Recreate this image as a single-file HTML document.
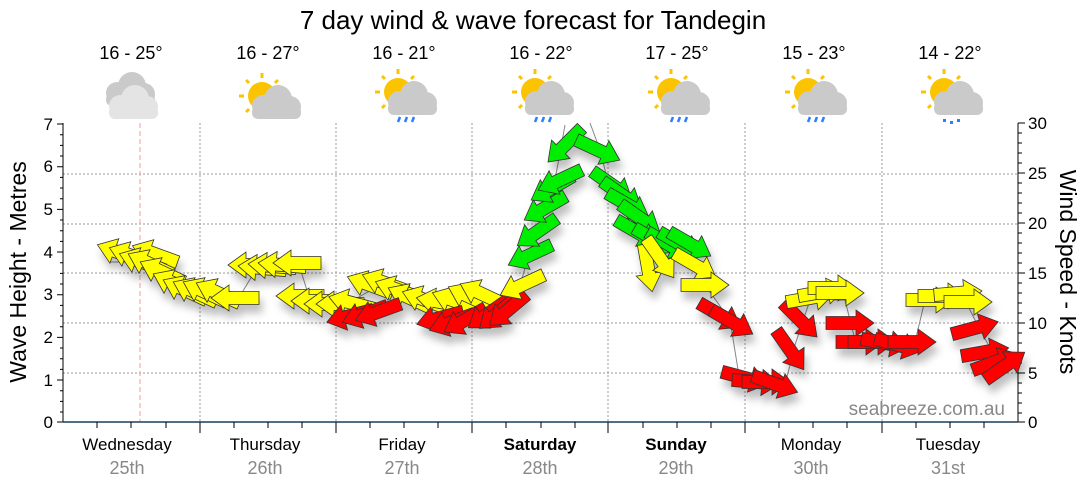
<!DOCTYPE html>
<html><head><meta charset="utf-8"><style>
body{margin:0;background:#fff}
svg{display:block;font-family:"Liberation Sans",sans-serif}
</style></head><body>
<svg width="1080" height="490" viewBox="0 0 1080 490" xmlns="http://www.w3.org/2000/svg">
<defs>
<polygon id="a" points="-24,-6.5 6,-6.5 6,-13 24,0 6,13 6,6.5 -24,6.5"/>
<filter id="sh" x="-50%" y="-50%" width="200%" height="200%"><feDropShadow dx="3" dy="8" stdDeviation="4" flood-color="#000" flood-opacity="0.25"/></filter>
<g id="cl"><circle cx="-10" cy="2" r="11"/><circle cx="5" cy="-5" r="14"/><circle cx="17" cy="3" r="11"/><rect x="-21" y="2" width="49" height="13" rx="6"/></g>
<g id="sun" fill="#fcc400"><circle r="14"/><g stroke="#fcc400" stroke-width="3"><line x1="0" y1="-18" x2="0" y2="-23"/><line x1="-13" y1="-13" x2="-16" y2="-16"/><line x1="13" y1="-13" x2="16" y2="-16"/><line x1="-18" y1="0" x2="-23" y2="0"/><line x1="-13" y1="13" x2="-16" y2="16"/></g></g>
<g id="rain" stroke="#2a7fff" stroke-width="2.5"><line x1="-7" y1="0" x2="-9" y2="5"/><line x1="0" y1="0" x2="-2" y2="5"/><line x1="7" y1="0" x2="5" y2="5"/></g>
</defs>
<text x="533" y="29" font-size="26" text-anchor="middle" fill="#000">7 day wind &amp; wave forecast for Tandegin</text>
<g font-size="18" text-anchor="middle" fill="#000">
<text x="131" y="59">16 - 25°</text><text x="268" y="59">16 - 27°</text><text x="404" y="59">16 - 21°</text><text x="541" y="59">16 - 22°</text><text x="677" y="59">17 - 25°</text><text x="814" y="59">15 - 23°</text><text x="950" y="59">14 - 22°</text>
</g>
<use href="#cl" x="127" y="91" fill="#cacaca"/><use href="#cl" x="130" y="104" fill="#e4e4e4"/>
<use href="#sun" x="262" y="96"/><use href="#cl" x="273" y="104" fill="#cacaca"/>
<use href="#sun" x="398" y="92"/><use href="#cl" x="409" y="100" fill="#cacaca"/><use href="#rain" x="407" y="117"/>
<use href="#sun" x="535" y="92"/><use href="#cl" x="546" y="100" fill="#cacaca"/><use href="#rain" x="544" y="117"/>
<use href="#sun" x="671" y="92"/><use href="#cl" x="682" y="100" fill="#cacaca"/><use href="#rain" x="680" y="117"/>
<use href="#sun" x="808" y="92"/><use href="#cl" x="819" y="100" fill="#cacaca"/><use href="#rain" x="817" y="117"/>
<use href="#sun" x="944" y="92"/><use href="#cl" x="955" y="100" fill="#cacaca"/>
<g fill="#2a7fff"><rect x="943" y="119" width="3" height="3"/><rect x="950" y="121" width="3" height="3"/><rect x="957" y="119" width="3" height="3"/></g>
<g stroke="#999" stroke-dasharray="2,2" stroke-width="1">
<line x1="63" y1="174" x2="1018" y2="174"/><line x1="63" y1="224" x2="1018" y2="224"/><line x1="63" y1="273" x2="1018" y2="273"/><line x1="63" y1="323" x2="1018" y2="323"/><line x1="63" y1="373" x2="1018" y2="373"/>
<line x1="200" y1="123" x2="200" y2="422"/><line x1="336" y1="123" x2="336" y2="422"/><line x1="472" y1="123" x2="472" y2="422"/><line x1="608" y1="123" x2="608" y2="422"/><line x1="745" y1="123" x2="745" y2="422"/><line x1="882" y1="123" x2="882" y2="422"/>
</g>
<line x1="140" y1="123" x2="140" y2="422" stroke="#f99" stroke-dasharray="5,3"/>
<g stroke="#000" stroke-width="1">
<line x1="63" y1="123" x2="63" y2="422"/><line x1="1018" y1="123" x2="1018" y2="422"/>
<path d="M57 124H63M57 166.7H63M57 209.4H63M57 252H63M57 294.7H63M57 337.4H63M57 380H63M57 422H63"/>
<path d="M60 134.7H63M60 145.4H63M60 156H63M60 177.4H63M60 188H63M60 198.7H63M60 220H63M60 230.7H63M60 241.4H63M60 262.7H63M60 273.4H63M60 284H63M60 305.4H63M60 316H63M60 326.7H63M60 348H63M60 358.7H63M60 369.4H63M60 390.7H63M60 401.4H63M60 412H63"/>
<path d="M1018 123H1025M1018 173H1025M1018 223H1025M1018 273H1025M1018 323H1025M1018 373H1025M1018 422H1025"/>
<path d="M1018 133H1022M1018 143H1022M1018 153H1022M1018 163H1022M1018 183H1022M1018 193H1022M1018 203H1022M1018 213H1022M1018 233H1022M1018 243H1022M1018 253H1022M1018 263H1022M1018 283H1022M1018 293H1022M1018 303H1022M1018 313H1022M1018 333H1022M1018 343H1022M1018 353H1022M1018 363H1022M1018 383H1022M1018 393H1022M1018 403H1022M1018 413H1022"/>
</g>
<line x1="63" y1="422" x2="1018" y2="422" stroke="#1c3f5f" stroke-width="1.5"/>
<g stroke="#000">
<path d="M200 422V433M336 422V433M472 422V433M608 422V433M745 422V433M882 422V433"/>
<path d="M97 422V428M131 422V428M166 422V428M234 422V428M268 422V428M302 422V428M370 422V428M404 422V428M438 422V428M506 422V428M541 422V428M575 422V428M643 422V428M677 422V428M711 422V428M779 422V428M813 422V428M847 422V428M916 422V428M950 422V428M984 422V428"/>
</g>
<g font-size="17" fill="#000" text-anchor="end">
<text x="53" y="130">7</text><text x="53" y="172">6</text><text x="53" y="215">5</text><text x="53" y="258">4</text><text x="53" y="300">3</text><text x="53" y="343">2</text><text x="53" y="386">1</text><text x="53" y="428">0</text>
</g>
<g font-size="17" fill="#000">
<text x="1028" y="129">30</text><text x="1028" y="179">25</text><text x="1028" y="229">20</text><text x="1028" y="279">15</text><text x="1028" y="329">10</text><text x="1028" y="379">5</text><text x="1028" y="428">0</text>
</g>
<text transform="translate(26,272) rotate(-90)" font-size="23" text-anchor="middle">Wave Height - Metres</text>
<text transform="translate(1060,272) rotate(90)" font-size="23" text-anchor="middle">Wind Speed - Knots</text>
<g font-size="17" text-anchor="middle">
<text x="127" y="450">Wednesday</text><text x="265" y="450">Thursday</text><text x="402" y="450">Friday</text><text x="540" y="450" font-weight="bold">Saturday</text><text x="676" y="450" font-weight="bold">Sunday</text><text x="811" y="450">Monday</text><text x="948" y="450">Tuesday</text>
</g>
<g font-size="18" text-anchor="middle" fill="#888">
<text x="127" y="474">25th</text><text x="265" y="474">26th</text><text x="402" y="474">27th</text><text x="540" y="474">28th</text><text x="676" y="474">29th</text><text x="811" y="474">30th</text><text x="948" y="474">31st</text>
</g>
<text x="1005" y="415" font-size="19" fill="#888" text-anchor="end">seabreeze.com.au</text>
<polyline fill="none" stroke="#888" stroke-width="1" points="110,262 160,262 200,296 240,296 258,266 300,268 310,300 345,305 380,285 420,298 480,297 505,305 520,285 535,235 555,180 565,125"/>
<polyline fill="none" stroke="#888" stroke-width="1" points="590,123 600,150 610,190 640,230 690,248 705,285 730,320 740,382 785,385 795,345 810,300 845,300 855,340 915,342 925,300 965,300 980,330 1000,365"/>
<g stroke="#333" stroke-width="0.8" filter="url(#sh)">
<g fill="#ff0">
<use href="#a" transform="translate(120,253) rotate(200)"/><use href="#a" transform="translate(132,256) rotate(200)"/><use href="#a" transform="translate(155,254) rotate(200)"/><use href="#a" transform="translate(142,262) rotate(200)"/><use href="#a" transform="translate(150,264) rotate(205)"/><use href="#a" transform="translate(162,272) rotate(205)"/>
<use href="#a" transform="translate(175,284) rotate(205)"/><use href="#a" transform="translate(185,290) rotate(205)"/><use href="#a" transform="translate(195,292) rotate(205)"/><use href="#a" transform="translate(205,292) rotate(205)"/><use href="#a" transform="translate(218,293) rotate(205)"/><use href="#a" transform="translate(235,298) rotate(180)"/>
<use href="#a" transform="translate(252,265) rotate(180)"/><use href="#a" transform="translate(262,268) rotate(185)"/><use href="#a" transform="translate(272,266) rotate(185)"/><use href="#a" transform="translate(282,265) rotate(185)"/><use href="#a" transform="translate(297,263) rotate(180)"/>
<use href="#a" transform="translate(300,296) rotate(180)"/><use href="#a" transform="translate(315,301) rotate(180)"/><use href="#a" transform="translate(328,304) rotate(180)"/><use href="#a" transform="translate(340,304) rotate(180)"/><use href="#a" transform="translate(352,303) rotate(195)"/>
<use href="#a" transform="translate(370,285) rotate(200)"/><use href="#a" transform="translate(385,283) rotate(200)"/><use href="#a" transform="translate(398,290) rotate(200)"/><use href="#a" transform="translate(410,298) rotate(205)"/><use href="#a" transform="translate(425,300) rotate(200)"/><use href="#a" transform="translate(440,302) rotate(190)"/><use href="#a" transform="translate(455,301) rotate(200)"/><use href="#a" transform="translate(470,297) rotate(205)"/><use href="#a" transform="translate(482,294) rotate(205)"/>
</g>
<g fill="#f00">
<use href="#a" transform="translate(350,316) rotate(165)"/><use href="#a" transform="translate(365,314) rotate(160)"/><use href="#a" transform="translate(378,312) rotate(160)"/><use href="#a" transform="translate(440,318) rotate(165)"/><use href="#a" transform="translate(452,322) rotate(160)"/><use href="#a" transform="translate(465,320) rotate(150)"/><use href="#a" transform="translate(488,314) rotate(145)"/><use href="#a" transform="translate(498,313) rotate(140)"/><use href="#a" transform="translate(508,310) rotate(140)"/>
</g>
<g fill="#ff0"><use href="#a" transform="translate(522,285) rotate(155)"/></g>
<g fill="#0e0">
<use href="#a" transform="translate(530,255) rotate(155)"/><use href="#a" transform="translate(537,232) rotate(145)"/><use href="#a" transform="translate(545,208) rotate(150)"/><use href="#a" transform="translate(552,188) rotate(150)"/><use href="#a" transform="translate(560,180) rotate(155)"/><use href="#a" transform="translate(565,145) rotate(135)"/>
<use href="#a" transform="translate(598,150) rotate(25)"/><use href="#a" transform="translate(612,185) rotate(35)"/><use href="#a" transform="translate(622,195) rotate(35)"/><use href="#a" transform="translate(628,205) rotate(30)"/><use href="#a" transform="translate(640,218) rotate(35)"/><use href="#a" transform="translate(637,232) rotate(30)"/><use href="#a" transform="translate(655,240) rotate(30)"/><use href="#a" transform="translate(668,244) rotate(30)"/><use href="#a" transform="translate(680,244) rotate(30)"/><use href="#a" transform="translate(690,244) rotate(30)"/>
</g>
<g fill="#ff0">
<use href="#a" transform="translate(648,268) rotate(80)"/><use href="#a" transform="translate(660,258) rotate(55)"/><use href="#a" transform="translate(695,265) rotate(30)"/><use href="#a" transform="translate(705,285) rotate(0)"/>
</g>
<g fill="#f00">
<use href="#a" transform="translate(720,315) rotate(30)"/><use href="#a" transform="translate(732,322) rotate(30)"/>
<use href="#a" transform="translate(745,378) rotate(15)"/><use href="#a" transform="translate(756,382) rotate(5)"/><use href="#a" transform="translate(766,382) rotate(0)"/><use href="#a" transform="translate(775,384) rotate(20)"/>
<use href="#a" transform="translate(800,320) rotate(45)"/><use href="#a" transform="translate(790,350) rotate(55)"/>
<use href="#a" transform="translate(850,323) rotate(0)"/>
<use href="#a" transform="translate(860,342) rotate(0)"/><use href="#a" transform="translate(872,342) rotate(0)"/><use href="#a" transform="translate(885,343) rotate(10)"/><use href="#a" transform="translate(898,345) rotate(15)"/><use href="#a" transform="translate(912,342) rotate(0)"/>
<use href="#a" transform="translate(975,328) rotate(-15)"/><use href="#a" transform="translate(985,352) rotate(-10)"/><use href="#a" transform="translate(995,362) rotate(-20)"/><use href="#a" transform="translate(1005,366) rotate(-35)"/>
</g>
<g fill="#ff0">
<use href="#a" transform="translate(810,298) rotate(-10)"/><use href="#a" transform="translate(822,292) rotate(-10)"/><use href="#a" transform="translate(832,288) rotate(0)"/><use href="#a" transform="translate(840,293) rotate(0)"/>
<use href="#a" transform="translate(930,300) rotate(0)"/><use href="#a" transform="translate(942,296) rotate(0)"/><use href="#a" transform="translate(958,293) rotate(-5)"/><use href="#a" transform="translate(968,302) rotate(0)"/>
</g>
</g>
</svg>
</body></html>
